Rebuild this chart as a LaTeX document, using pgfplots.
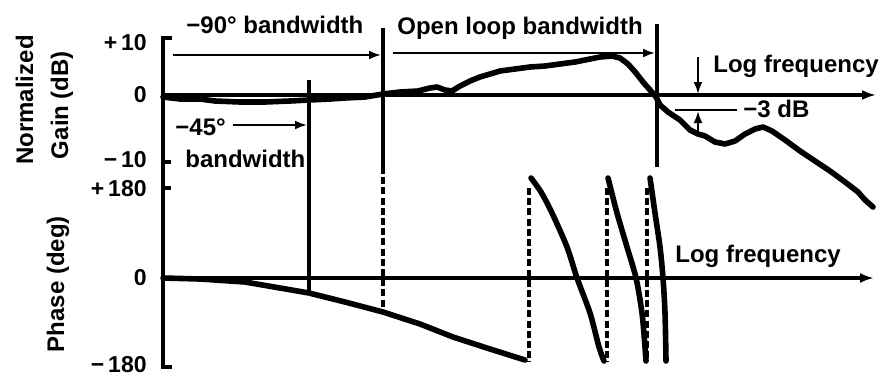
\documentclass[border=0pt]{standalone}
\usepackage{fontspec}
\setmainfont{Liberation Sans}
\usepackage{pgfplots}
\pgfplotsset{compat=1.18}
\usetikzlibrary{arrows.meta}

\tikzset{
    lbl/.style={font=\bfseries\fontsize{12}{14}\selectfont, inner sep=0pt},
    tck/.style={font=\bfseries\fontsize{11.5}{13}\selectfont, inner sep=0pt, anchor=base east},
}

\begin{document}
\begin{tikzpicture}
\begin{axis}[
    width=440.5pt, height=188pt, scale only axis,
    xmin=0, xmax=881, ymin=0, ymax=376,
    y dir=reverse,
    hide axis, clip=false,
    ax/.style={black, line width=1.6pt, line cap=butt},
    crv/.style={black, line width=2.8pt, line cap=round, line join=round},
    arr/.style={black, line width=1.1pt, -{Latex[length=6pt,width=4.5pt]}},
    dsh/.style={black, line width=1.7pt, dash pattern=on 3.5pt off 1.6pt},
]
% page frame (pixel layout of the figure)
\path (axis cs:0,0) rectangle (axis cs:881,376);

% left axis with tick stubs
\addplot[ax, line join=miter] coordinates {(172,38) (163,38) (163,367) (172,367)};
\addplot[ax] coordinates {(163,162) (171,162)};
\addplot[ax] coordinates {(163,188) (171,188)};

% zero lines (log frequency)
\addplot[ax, -{Latex[length=7pt,width=5pt]}] coordinates {(163,95) (876,95)};
\addplot[ax, -{Latex[length=7pt,width=5pt]}] coordinates {(163,278) (874,278)};

% normalized gain
\addplot[crv] coordinates {
(163,97) (180,99) (200,99) (215,101) (240,102) (265,102) (290,101) (309,100)
(330,99) (345,98) (365,97) (383,94) (400,92) (418,91) (430,88) (437,87)
(445,90) (452,91) (460,86) (470,81) (480,77) (490,74) (500,71) (515,69)
(530,67) (545,66) (560,64) (575,62) (590,59) (600,57) (612,56) (620,58)
(628,64) (636,73) (643,82) (650,90) (656,97) (660,105) (668,112) (680,120)
(690,130) (698,134) (705,136) (715,142) (725,144) (735,141) (745,134) (755,129)
(763,127) (772,131) (785,140) (800,151) (815,161) (830,171) (845,182) (858,192)
(865,200) (873,207)};

% phase
\addplot[crv] coordinates {
(163,278) (200,279) (245,282) (280,288) (309,293) (345,302) (383,312)
(420,324) (453,337) (490,349) (525,360)};
\addplot[crv, smooth] coordinates {
(531,178) (541,192) (552,213) (567,247) (577,278) (590,313) (599,347) (604,361)};
\addplot[crv, smooth] coordinates {
(608,178) (617,213) (627,247) (636,278) (642,313) (645,347) (646,361)};
\addplot[crv, smooth] coordinates {
(650,178) (655,213) (660,247) (663,278) (665,313) (666,361)};

% bandwidth markers
\addplot[ax] coordinates {(309,80) (309,292)};
\addplot[ax] coordinates {(383,28) (383,167)};
\addplot[dsh] coordinates {(383,167) (383,312)};
\addplot[ax] coordinates {(657,24) (657,167)};
\addplot[dsh] coordinates {(529,188) (529,362)};
\addplot[dsh] coordinates {(607,188) (607,362)};
\addplot[dsh] coordinates {(647,188) (647,360)};

% annotation arrows
\addplot[arr] coordinates {(173,55) (381,55)};
\addplot[arr] coordinates {(393,53) (655,53)};
\addplot[arr] coordinates {(233,125) (307,125)};
\addplot[arr] coordinates {(698,57) (698,94)};
\addplot[arr] coordinates {(698,136) (698,111)};
\addplot[black, line width=1.1pt] coordinates {(675,110) (737,110)};

% texts
\node[lbl, anchor=base west] at (axis cs:186,33) {−90° bandwidth};
\node[lbl, anchor=base west] at (axis cs:397,34) {Open loop bandwidth};
\node[lbl, anchor=base west] at (axis cs:713,72) {Log frequency};
\node[lbl, anchor=base west] at (axis cs:743,117) {−3 dB};
\node[lbl, anchor=base west] at (axis cs:175,135) {−45°};
\node[lbl, anchor=base west] at (axis cs:185,167) {bandwidth};
\node[lbl, anchor=base west] at (axis cs:675,262) {Log frequency};

% axis titles
\node[lbl, anchor=base, rotate=90] at (axis cs:33,100) {Normalized};
\node[lbl, anchor=base, rotate=90] at (axis cs:68,105) {Gain (dB)};
\node[lbl, anchor=base, rotate=90] at (axis cs:64,284) {Phase (deg)};

% tick labels
\node[tck] at (axis cs:147,50) {+\,10};
\node[tck] at (axis cs:147,102) {0};
\node[tck] at (axis cs:147,167) {−\,10};
\node[tck] at (axis cs:147,196) {+\,180};
\node[tck] at (axis cs:147,285) {0};
\node[tck] at (axis cs:147,372) {−\,180};
\end{axis}
\end{tikzpicture}
\end{document}
